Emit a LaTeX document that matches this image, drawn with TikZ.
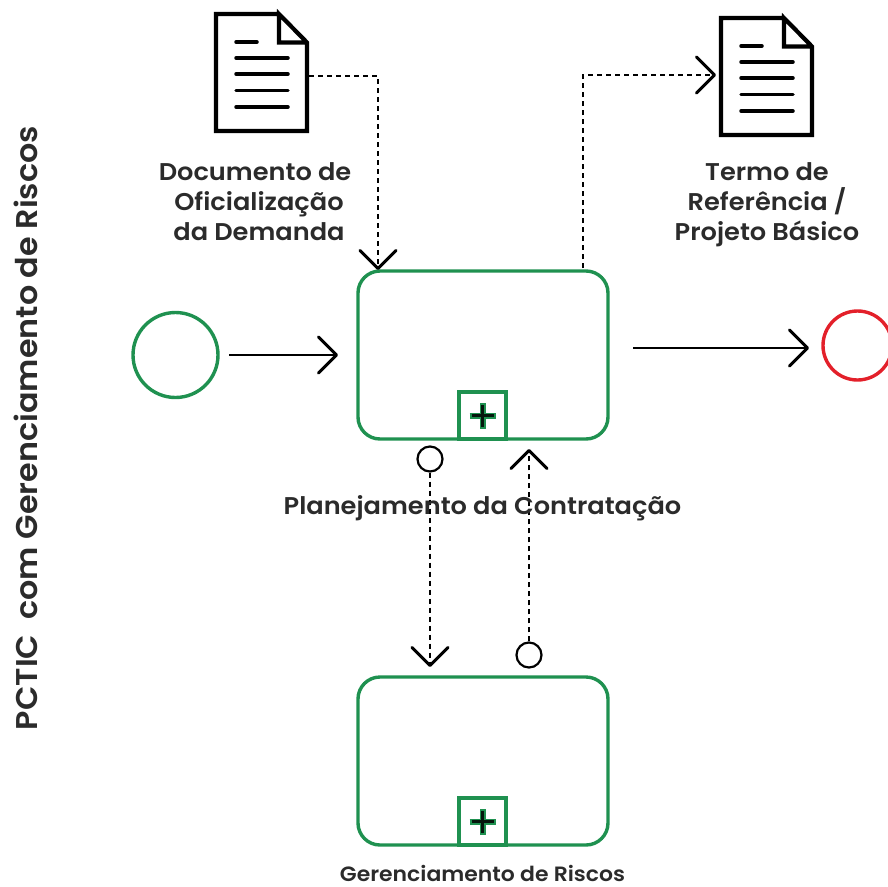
\documentclass[tikz,border=0pt]{standalone}
\usepackage{fontspec}
\setmainfont{Poppins}[BoldFont={Poppins SemiBold},BoldFeatures={FakeStretch=1.06}]
\usetikzlibrary{arrows.meta}
\definecolor{bgreen}{HTML}{1F9150}
\definecolor{bred}{HTML}{E3202A}
\definecolor{ink}{HTML}{2B2B2B}
\tikzset{
  x=1pt,y=-1pt,
  taskbox/.style={draw=bgreen,line width=3.4pt,rounded corners=22pt,minimum width=250pt,minimum height=168pt,inner sep=0pt},
  plusbox/.style={draw=bgreen,line width=3.2pt,fill=white,minimum width=47pt,minimum height=47pt,inner sep=0pt},
  startev/.style={circle,draw=bgreen,line width=3.4pt,minimum size=85pt,inner sep=0pt},
  endev/.style={circle,draw=bred,line width=3.4pt,minimum size=69pt,inner sep=0pt},
  assoc/.style={circle,draw=black,line width=2.2pt,fill=white,minimum size=25pt,inner sep=0pt},
  barb/.style={-{Straight Barb[round,length=18pt,width=36pt,line width=3pt]}},
  flow/.style={barb,draw=black,line width=2.2pt},
  dotflow/.style={barb,draw=black,line width=2.5pt,dash pattern=on 5pt off 4pt},
  lab/.style={font=\bfseries\fontsize{24.2}{30}\selectfont,text=ink,align=center,inner sep=0pt},
  smalllab/.style={font=\bfseries\fontsize{20.7}{24}\selectfont,text=ink,align=center,inner sep=0pt},
  sidelab/.style={font=\bfseries\fontsize{30}{34}\selectfont,text=ink,align=center,inner sep=0pt,rotate=90},
  docline/.style={draw=black,line width=3.5pt,line cap=round},
  docframe/.style={draw=black,line width=4.2pt,miter limit=10},
}
\newcommand{\docicon}[2]{%
  \begin{scope}[shift={(#1,#2)}]
    \draw[docframe] (279,14) -- (216,14) -- (216,131) -- (307,131) -- (307,42.5) -- (279,14) -- (279,42.5) -- (307,42.5);
    \draw[docline] (236,42) -- (257,42);
    \draw[docline] (236,58) -- (288,58);
    \draw[docline] (236,74) -- (288,74);
    \draw[docline] (236,90.5) -- (288,90.5);
    \draw[docline] (236,107) -- (288,107);
  \end{scope}}
\begin{document}
\begin{tikzpicture}
\useasboundingbox (0,0) rectangle (887,887);
\docicon{0}{0}
\docicon{505}{4}
\coordinate (d1) at (309,76);
\coordinate (d2) at (716,75);
\node[taskbox] (plan) at (483,355) {};
\node[taskbox] (risk) at (483,761) {};
\node[plusbox] (p1) at (482.5,415.5) {};
\node[plusbox] (p2) at (482.5,821.5) {};
\foreach \p in {p1,p2}{
  \draw[bgreen,line width=6pt] ([xshift=-13pt]\p.center) -- ([xshift=13pt]\p.center);
  \draw[bgreen,line width=6pt] ([yshift=-13pt]\p.center) -- ([yshift=13pt]\p.center);
  \draw[black!85!bgreen,line width=2.5pt] ([xshift=-11pt]\p.center) -- ([xshift=11pt]\p.center);
  \draw[black!85!bgreen,line width=2.5pt] ([yshift=-11pt]\p.center) -- ([yshift=11pt]\p.center);
}
\node[startev] (start) at (175.5,355) {};
\node[endev] (end) at (857.5,345.5) {};
\coordinate (s1) at (229,355);
\coordinate (s2) at (338,355);
\coordinate (e1) at (633,348);
\coordinate (e2) at (809,348);
\draw[flow] (s1) -- (s2);
\draw[flow] (e1) -- (e2);
\coordinate (inbend) at (378,76);
\coordinate (intip) at (378,270);
\draw[dotflow] (d1) -- (inbend) -- (intip);
\coordinate (outst) at (583,268);
\coordinate (outbend) at (583,75);
\draw[dotflow] (outst) -- (outbend) -- (d2);
\node[assoc] (a1) at (430,459) {};
\node[assoc] (a2) at (529,655) {};
\coordinate (a1t) at (430,667);
\coordinate (a2t) at (529,449);
\draw[dotflow] (a1) -- (a1t);
\draw[dotflow] (a2) -- (a2t);
\node[lab] (tplan) at (482.5,508) {Planejamento da Contratação};
\node[lab] (t1) at (255,202) {Documento de\\\hspace*{8pt}Oficialização\\\hspace*{8pt}da Demanda};
\node[lab] (t2) at (767,205) {Termo de\\Referência /\\Projeto Básico};
\node[smalllab] (t3) at (482.5,873) {Gerenciamento de Riscos};
\node[sidelab] (side) at (26,428) {PCTIC\ \ com Gerenciamento de Riscos};
\end{tikzpicture}
\end{document}
